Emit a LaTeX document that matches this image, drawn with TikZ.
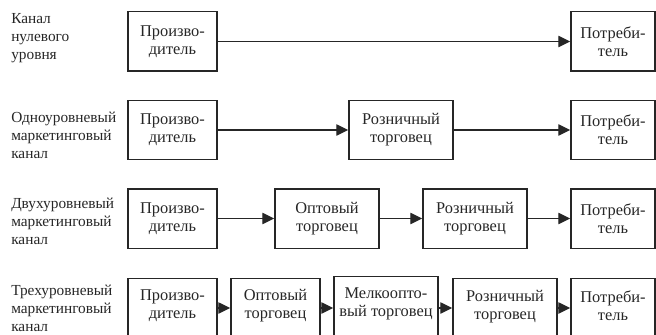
\documentclass[tikz,border=0pt]{standalone}
\usepackage{fontspec}
\setmainfont{Liberation Serif}
\usetikzlibrary{arrows.meta}
\definecolor{ink}{HTML}{262626}
\tikzset{
  boxfont/.style={font=\fontsize{12.3}{13.6}\selectfont, text=ink, align=center},
  box/.style={draw=ink, line width=1.1pt, rectangle, inner sep=0pt, boxfont, minimum height=44.6pt},
  wA/.style={minimum width=66.75pt},
  wB/.style={minimum width=63pt},
  wC/.style={minimum width=78pt},
  lbl/.style={anchor=north west, align=left, inner sep=0pt,
    font=\fontsize{11.5}{13.4}\selectfont, text=ink},
  arr/.style={draw=ink, line width=1.05pt, -{Triangle[length=9pt,width=8.5pt]}},
}
\begin{document}
\begin{tikzpicture}[x=0.75pt,y=-0.75pt]
\useasboundingbox (0,0) rectangle (656,335);
\clip (0,0) rectangle (656,335);
% labels
\node[lbl] (L1) at (11,13) {Канал\\нулевого\\уровня};
\node[lbl] (L2) at (11,112) {Одноуровневый\\маркетинговый\\канал};
\node[lbl] (L3) at (11,198) {Двухуровневый\\маркетинговый\\канал};
\node[lbl] (L4) at (11,285) {Трехуровневый\\маркетинговый\\канал};
% row 1
\node[box,wA] (P1) at (172.5,41.5) {Произво-\\дитель};
\node[box,wB] (C1) at (613,41.5) {Потреби-\\тель};
\draw[arr] (P1) -- (C1);
% row 2
\node[box,wA] (P2) at (172.5,130) {Произво-\\дитель};
\node[box,wC] (R2) at (401,130) {Розничный\\торговец};
\node[box,wB] (C2) at (613,130) {Потреби-\\тель};
\draw[arr] (P2) -- (R2);
\draw[arr] (R2) -- (C2);
% row 3
\node[box,wA] (P3) at (172.5,218.5) {Произво-\\дитель};
\node[box,wC] (W3) at (327,218.5) {Оптовый\\торговец};
\node[box,wC] (R3) at (475,218.5) {Розничный\\торговец};
\node[box,wB] (C3) at (613,218.5) {Потреби-\\тель};
\draw[arr] (P3) -- (W3);
\draw[arr] (W3) -- (R3);
\draw[arr] (R3) -- (C3);
% row 4 (boxes run past the lower edge of the picture)
\node[box,wA,anchor=north] (P4) at (172.5,278) {};
\node[box,wA,anchor=north] (W4) at (275.5,278) {};
\node[box,wC,anchor=north] (M4) at (386,276) {};
\node[box,wC,anchor=north] (R4) at (505,278) {};
\node[box,wB,anchor=north] (C4) at (613,278) {};
\node[boxfont] (tP4) at (172.5,306) {Произво-\\дитель};
\node[boxfont] (tW4) at (275.5,306) {Оптовый\\торговец};
\node[boxfont] (tM4) at (386,304) {Мелкоопто-\\вый торговец};
\node[boxfont] (tR4) at (505,307) {Розничный\\торговец};
\node[boxfont] (tC4) at (613,306) {Потреби-\\тель};
\coordinate (row4) at (0,308);
\draw[arr] (P4.east |- row4) -- (W4.west |- row4);
\draw[arr] (W4.east |- row4) -- (M4.west |- row4);
\draw[arr] (M4.east |- row4) -- (R4.west |- row4);
\draw[arr] (R4.east |- row4) -- (C4.west |- row4);
\end{tikzpicture}
\end{document}
